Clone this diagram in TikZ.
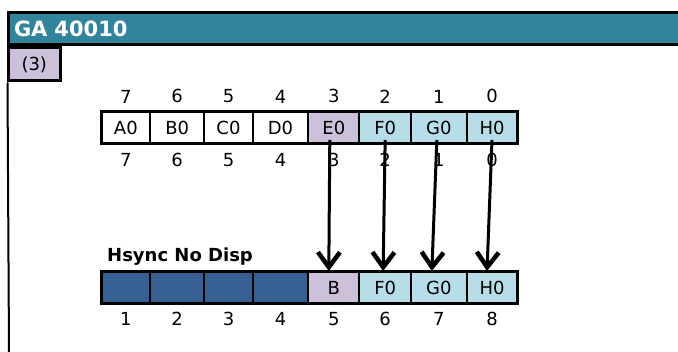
\documentclass[tikz,border=0pt]{standalone}
\usepackage{fontspec}
\setmainfont{DejaVu Sans}
\usetikzlibrary{positioning,arrows.meta}
\definecolor{bandeau}{HTML}{31849B}
\definecolor{lavande}{HTML}{CCC0DA}
\definecolor{ciel}{HTML}{B7DEE8}
\definecolor{nuit}{HTML}{366092}

\begin{document}
\begin{tikzpicture}[x=1pt,y=1pt,
  txt/.style={font=\fontsize{18}{20}\selectfont,inner sep=0pt},
  cell/.style={draw,line width=2pt,minimum height=32pt,inner sep=0pt,outer sep=0pt,
               font=\fontsize{18}{20}\selectfont},
  rowline/.style={line width=3pt},
  arr/.style={-{Straight Barb[length=15pt,width=22pt,line width=4.5pt]},line width=3pt}]
\useasboundingbox (0,0) rectangle (678,352);
% cadre
\node[draw,rowline,fill=bandeau,minimum width=673pt,minimum height=32pt,inner xsep=6pt,
      text width=661pt,align=left,text=white,font=\bfseries\fontsize{21}{24}\selectfont]
      (titre) at (344.5,323) {GA 40010};
\node[draw,rowline,fill=lavande,minimum width=52.5pt,minimum height=33pt,inner sep=0pt,
      font=\fontsize{18}{20}\selectfont,anchor=north west] (etape) at (titre.south west) {(3)};
\coordinate (bas) at (9,0);
\draw[line width=2pt] (etape.south west) ++(1,0) -- (bas);
% ligne du haut
\node[cell,minimum width=48.3pt] (t1) at (125.85,224) {A0};
\node[cell,minimum width=54.3pt] (t2) at (177.15,224) {B0};
\node[cell,minimum width=48.4pt] (t3) at (228.5,224) {C0};
\node[cell,minimum width=55.6pt] (t4) at (280.5,224) {D0};
\node[cell,minimum width=51pt,fill=lavande] (t5) at (333.8,224) {E0};
\node[cell,minimum width=51.7pt,fill=ciel] (t6) at (385.15,224) {F0};
\node[cell,minimum width=55.7pt,fill=ciel] (t7) at (438.85,224) {G0};
\node[cell,minimum width=50.6pt,fill=ciel] (t8) at (492,224) {H0};
\draw[rowline] (t1.north west) rectangle (t8.south east);
\foreach \c/\v in {1/7,2/6,3/5,4/4,5/3,6/2,7/1,8/0} {
  \node[txt,above=8.7pt of t\c] (h\c) {\v};
  \node[txt,below=9.3pt of t\c] (s\c) {\v};
}
% ligne du bas
\node[cell,minimum width=48.3pt,fill=nuit] (b1) at (125.85,64) {};
\node[cell,minimum width=54.3pt,fill=nuit] (b2) at (177.15,64) {};
\node[cell,minimum width=48.4pt,fill=nuit] (b3) at (228.5,64) {};
\node[cell,minimum width=55.6pt,fill=nuit] (b4) at (280.5,64) {};
\node[cell,minimum width=51pt,fill=lavande] (b5) at (333.8,64) {B};
\node[cell,minimum width=51.7pt,fill=ciel] (b6) at (385.15,64) {F0};
\node[cell,minimum width=55.7pt,fill=ciel] (b7) at (438.85,64) {G0};
\node[cell,minimum width=50.6pt,fill=ciel] (b8) at (492,64) {H0};
\draw[rowline] (b1.north west) rectangle (b8.south east);
\foreach \c in {1,...,8}
  \node[txt,below=7.7pt of b\c] (n\c) {\c};
\node[txt,font=\bfseries\fontsize{18}{20}\selectfont,anchor=south west]
  (hsync) at ([shift={(5.3,6.7)}]b1.north west) {Hsync No Disp};
% fleches
\draw[arr] ([xshift=-4pt,yshift=4pt]t5.south) -- ([xshift=-5pt,yshift=1pt]b5.north);
\draw[arr] ([yshift=4pt]t6.south) -- ([xshift=-2pt,yshift=1pt]b6.north);
\draw[arr] ([xshift=-2pt,yshift=4pt]t7.south) -- ([xshift=-7pt,yshift=1pt]b7.north);
\draw[arr] ([yshift=4pt]t8.south) -- ([xshift=-5pt,yshift=1pt]b8.north);
\end{tikzpicture}
\end{document}
